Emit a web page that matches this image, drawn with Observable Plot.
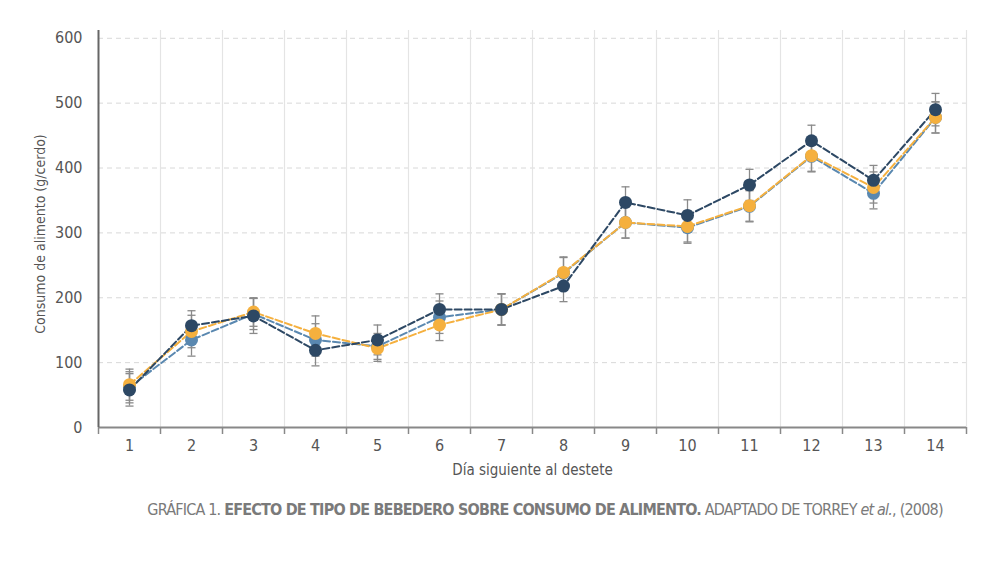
<!DOCTYPE html>
<html><head><meta charset="utf-8">
<script src="https://cdn.jsdelivr.net/npm/d3@7"></script>
<script src="https://cdn.jsdelivr.net/npm/@observablehq/plot@0.6"></script>
<style>
body{margin:0;background:#fff;font-family:"DejaVu Sans",sans-serif;font-stretch:condensed;}
#chart{position:absolute;left:0;top:0;}
#chart svg{font-stretch:condensed;}
#caption{position:absolute;left:0;top:500px;width:1090px;text-align:center;font-size:16px;color:#7a7a7a;letter-spacing:-0.8px;font-stretch:condensed;}
</style></head>
<body>
<div id="chart"></div>
<div id="caption">GRÁFICA 1. <b>EFECTO DE TIPO DE BEBEDERO SOBRE CONSUMO DE ALIMENTO.</b> ADAPTADO DE TORREY <i>et al.</i>, (2008)</div>
<script>
const days = [1,2,3,4,5,6,7,8,9,10,11,12,13,14];
const seriesNames = ["Bebedero A","Bebedero B","Bebedero C"];
const valuesBlue   = [62,135,175,135,125,170,182,238,316,308,341,418,361,478];
const valuesOrange = [66,148,178,145,122,158,182,239,316,310,342,419,370,478];
const valuesDark   = [58,157,172,119,135,182,182,218,347,327,374,442,381,490];
const errBlue   = [24,25,24,25,20,25,24,24,24,24,24,24,24,24];
const errOrange = [24,25,22,27,20,24,24,24,24,24,24,24,24,24];
const errDark   = [25,23,27,24,23,24,24,24,24,24,24,24,23,25];
const colors = ["#5a88b0","#f5b03e","#2d4864"];
const yTicks = [0,100,200,300,400,500,600];
const bounds = [0.5,1.5,2.5,3.5,4.5,5.5,6.5,7.5,8.5,9.5,10.5,11.5,12.5,13.5,14.5];

const vals = [valuesBlue, valuesOrange, valuesDark];
const errs = [errBlue, errOrange, errDark];
const data = [];
seriesNames.forEach((s,i)=>days.forEach((d,j)=>data.push({series:s, day:d, v:vals[i][j], e:errs[i][j]})));

const font = `"DejaVu Sans",sans-serif`;
const chart = Plot.plot({
  width: 1000, height: 490,
  marginTop: 30, marginBottom: 63, marginLeft: 98, marginRight: 34,
  style: {fontFamily: font, fontSize: "15px", color: "#555", background: "white"},
  x: {type: "linear", domain: [0.5, 14.5]},
  y: {domain: [0, 612]},
  color: {domain: seriesNames, range: colors},
  marks: [
    Plot.ruleY(yTicks.slice(1), {stroke: "#d8d8d8", strokeDasharray: "5,4", strokeWidth: 1}),
    Plot.ruleX(bounds.slice(1), {stroke: "#e4e4e4", strokeWidth: 1.2}),
    Plot.axisY({ticks: yTicks, tickSize: 0, tickPadding: 16, label: null, fill: "#555", fontSize: 16}),
    Plot.text(["Consumo de alimento (g/cerdo)"], {frameAnchor: "left", textAnchor: "middle", dx: -58, dy: 5, rotate: -90, fontSize: 14, fill: "#555"}),
    Plot.axisX({ticks: bounds, tickFormat: () => "", tickSize: 7, stroke: "#888", strokeWidth: 1.5, label: null}),
    Plot.axisX({ticks: days, tickSize: 0, tickPadding: 12, label: null, fill: "#555", fontSize: 16}),
    Plot.text(["Día siguiente al destete"], {frameAnchor: "bottom", dy: 47, fontSize: 15, fill: "#555"}),
    Plot.ruleY([0], {stroke: "#888", strokeWidth: 2}),
    Plot.ruleX([0.5], {y1: 0, y2: 612, stroke: "#666", strokeWidth: 2}),
    Plot.ruleX(data, {x: "day", y1: d => d.v - d.e, y2: d => d.v + d.e, stroke: "#8a8a8a", strokeWidth: 1.3}),
    Plot.link(data, {x1: d => d.day - 0.065, x2: d => d.day + 0.065, y1: d => d.v + d.e, y2: d => d.v + d.e, stroke: "#8a8a8a", strokeWidth: 1.3}),
    Plot.link(data, {x1: d => d.day - 0.065, x2: d => d.day + 0.065, y1: d => d.v - d.e, y2: d => d.v - d.e, stroke: "#8a8a8a", strokeWidth: 1.3}),
    Plot.line(data, {x: "day", y: "v", z: "series", stroke: "series", strokeWidth: 2, strokeDasharray: "7,3"}),
    Plot.dot(data, {x: "day", y: "v", fill: "series", r: 6.5})
  ]
});
document.getElementById("chart").append(chart);
</script>
</body></html>
